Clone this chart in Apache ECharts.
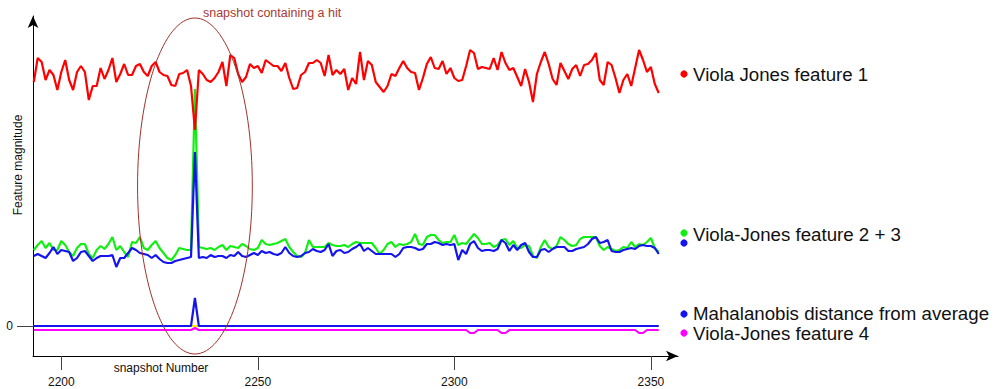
<!DOCTYPE html>
<html>
<head>
<meta charset="utf-8">
<script src="https://cdn.jsdelivr.net/npm/echarts@6/dist/echarts.min.js"></script>
<style>
  html, body { margin: 0; padding: 0; background: #fff; }
  #chart { width: 993px; height: 389px; }
</style>
</head>
<body>
<div id="chart"></div>
<script>
// Snapshot numbers run consecutively from this one
const firstSnapshot = 2193;
const hitSnapshot = 2234;
const xTicks = [2200, 2250, 2300, 2350];
const yTicks = [0];

// Viola Jones feature 1
const feature1 = [
  244,268,264,246,256,251,236,254,266,246,
  236,254,260,254,226,240,240,258,247,256,
  268,244,252,262,251,251,260,262,254,250,
  260,264,254,251,250,241,240,252,253,256,
  240,196,256,252,246,244,248,254,264,240,
  271,268,252,244,249,262,258,260,253,266,
  263,260,260,255,263,248,237,238,251,254,
  263,263,266,263,250,271,251,256,252,257,
  236,248,242,274,246,265,261,244,239,234,
  240,252,250,258,265,258,254,253,236,248,
  262,269,258,257,265,252,258,248,245,246,
  260,276,273,257,259,258,257,268,256,274,
  263,256,258,249,240,257,244,224,252,264,
  274,262,247,241,263,255,247,257,261,250,
  261,262,266,273,246,241,264,261,248,233,
  246,252,240,258,276,266,254,259,242,233
];

// Viola-Jones feature 2 (green)
const feature2 = [
  76,81,85,78,83,76,76,85,81,74,
  70,78,82,82,72,68,76,80,77,82,
  89,76,80,74,69,84,83,89,78,76,
  81,85,78,73,68,66,71,78,77,76,
  76,237,79,78,77,78,76,79,81,76,
  80,79,78,82,80,77,76,78,86,82,
  81,82,83,85,87,79,74,70,69,73,
  86,79,79,79,79,83,81,80,80,81,
  79,82,84,83,83,83,83,78,72,76,
  82,84,79,82,81,82,84,92,82,81,
  89,91,91,86,83,84,84,91,81,83,
  82,87,92,88,82,82,83,79,81,86,
  87,81,85,78,78,81,80,70,68,79,
  86,79,77,80,89,86,82,80,81,87,
  89,89,89,89,80,76,79,77,75,76,
  79,78,84,79,82,81,84,88,78,74
];

// Viola-Jones feature 3 (blue)
const feature3 = [
  70,72,70,68,73,79,72,76,75,74,
  65,68,74,75,70,65,68,70,70,70,
  71,59,68,68,73,78,76,73,72,71,
  68,71,67,64,63,63,65,66,67,68,
  69,174,68,69,68,71,69,70,70,68,
  71,70,74,70,69,71,73,71,75,73,
  74,72,71,73,79,73,70,69,70,73,
  74,77,75,74,76,82,70,75,76,73,
  74,77,79,82,75,78,75,72,72,72,
  72,72,69,72,78,79,79,78,76,77,
  82,82,84,83,81,82,81,82,66,76,
  72,82,85,78,75,76,76,75,77,86,
  83,75,81,76,81,83,74,69,69,76,
  77,74,77,79,79,79,75,75,77,78,
  79,82,87,89,83,84,86,75,74,74,
  76,77,78,77,80,81,80,80,78,72
];

// Mahalanobis distance from average
const mahalanobis = [
  0,0,0,0,0,0,0,0,0,0, 0,0,0,0,0,0,0,0,0,0,
  0,0,0,0,0,0,0,0,0,0, 0,0,0,0,0,0,0,0,0,0,
  0,28,0,0,0,0,0,0,0,0, 0,0,0,0,0,0,0,0,0,0,
  0,0,0,0,0,0,0,0,0,0, 0,0,0,0,0,0,0,0,0,0,
  0,0,0,0,0,0,0,0,0,0, 0,0,0,0,0,0,0,0,0,0,
  0,0,0,0,0,0,0,0,0,0, 0,0,0,0,0,0,0,0,0,0,
  0,0,0,0,0,0,0,0,0,0, 0,0,0,0,0,0,0,0,0,0,
  0,0,0,0,0,0,0,0,0,0, 0,0,0,0,0,0,0,0,0,0
];

// Unlabelled trace lying under the Mahalanobis line
const baseline = [
  0,0,0,0,0,0,0,0,0,0, 0,0,0,0,0,0,0,0,0,0,
  0,0,0,0,0,0,0,0,0,0, 0,0,0,0,0,0,0,0,0,0,
  0,0,0,0,0,0,0,0,0,0, 0,0,0,0,0,0,0,0,0,0,
  0,0,0,0,0,0,0,0,0,0, 0,0,0,0,0,0,0,0,0,0,
  0,0,0,0,0,0,0,0,0,0, 0,0,0,0,0,0,0,0,0,0,
  0,0,0,0,0,0,0,0,0,0, 0,0,0,0,0,0,0,0,0,0,
  0,0,0,0,0,0,0,0,0,0, 0,0,0,0,0,0,0,0,0,0,
  0,0,0,0,0,0,0,0,0,0, 0,0,0,0,0,0,0,0,0,0
];

// Viola-Jones feature 4
const feature4 = [
  -4,-4,-4,-4,-4,-4,-4,-4,-4,-4, -4,-4,-4,-4,-4,-4,-4,-4,-4,-4,
  -4,-4,-4,-4,-4,-4,-4,-4,-4,-4, -4,-4,-4,-4,-4,-4,-4,-4,-4,-4,
  -4,-2,-4,-4,-4,-4,-4,-4,-4,-4, -4,-4,-4,-4,-4,-4,-4,-4,-4,-4,
  -4,-4,-4,-4,-4,-4,-4,-4,-4,-4, -4,-4,-4,-4,-4,-4,-4,-4,-4,-4,
  -4,-4,-4,-4,-4,-4,-4,-4,-4,-4, -4,-4,-4,-4,-4,-4,-4,-4,-4,-4,
  -4,-4,-4,-4,-4,-4,-4,-4,-4,-4, -4,-7,-7,-4,-4,-4,-4,-4,-4,-7,
  -7,-4,-4,-4,-4,-4,-4,-4,-4,-4, -4,-4,-4,-4,-4,-4,-4,-4,-4,-4,
  -4,-4,-4,-4,-4,-4,-4,-4,-4,-4, -4,-4,-4,-4,-7,-7,-4,-4,-4,-4
];

// Ring drawn round the hit snapshot (snapshot half-width, magnitude range)
const hitRing = { halfWidth: 14.6, low: -28, high: 308 };

const FONT = '"Liberation Sans", Arial, Helvetica, sans-serif';
const COLORS = {
  red: '#ff0000', green: '#11ee11', blue: '#1414ee',
  magenta: '#ff00ff', yellow: '#ffee00', ring: '#a2322c'
};

const snapshots = feature1.map((_, i) => firstSnapshot + i);
const toPoints = values => values.map((v, i) => [snapshots[i], v]);

function lineSeries(name, values, color) {
  return {
    type: 'line', name, data: toPoints(values),
    symbol: 'none', showSymbol: false, silent: true,
    lineStyle: { color, width: 2.2 }, itemStyle: { color }
  };
}

const chart = echarts.init(document.getElementById('chart'), null, { renderer: 'svg' });

chart.setOption({
  animation: false,
  textStyle: { fontFamily: FONT },
  grid: { left: 33, top: 16, right: 315, bottom: 33, containLabel: false },
  xAxis: {
    type: 'value', min: 2192.8, max: 2356.9,
    axisLine: {
      show: true, onZero: false,
      symbol: ['none', 'arrow'], symbolSize: [8, 12],
      lineStyle: { color: '#000', width: 1 }
    },
    axisTick: { show: true, customValues: xTicks, length: 14, lineStyle: { color: '#444' } },
    axisLabel: {
      customValues: xTicks, margin: 20, fontSize: 12, color: '#111', fontFamily: FONT,
      formatter: v => String(v)
    },
    splitLine: { show: false }
  },
  yAxis: {
    type: 'value', min: -30, max: 310,
    axisLine: {
      show: true, onZero: false,
      symbol: ['none', 'arrow'], symbolSize: [8, 12],
      lineStyle: { color: '#000', width: 1 }
    },
    axisTick: { show: true, customValues: yTicks, length: 16, lineStyle: { color: '#444' } },
    axisLabel: {
      customValues: yTicks, margin: 20, fontSize: 12, color: '#111', fontFamily: FONT,
      formatter: v => String(v)
    },
    splitLine: { show: false }
  },
  series: [
    lineSeries('baseline', baseline, COLORS.yellow),
    lineSeries('Viola-Jones feature 4', feature4, COLORS.magenta),
    lineSeries('Mahalanobis distance from average', mahalanobis, COLORS.blue),
    lineSeries('Viola-Jones feature 2', feature2, COLORS.green),
    lineSeries('Viola-Jones feature 3', feature3, COLORS.blue),
    lineSeries('Viola Jones feature 1', feature1, COLORS.red)
  ]
});

// Annotation ring and side labels, placed from the grid's own scales
const [cx, cyTop] = chart.convertToPixel({ gridIndex: 0 }, [hitSnapshot, hitRing.high]);
const [, cyBottom] = chart.convertToPixel({ gridIndex: 0 }, [hitSnapshot, hitRing.low]);
const [xRight] = chart.convertToPixel({ gridIndex: 0 }, [hitSnapshot + hitRing.halfWidth, 0]);
const ring = { cx, cy: (cyTop + cyBottom) / 2, rx: xRight - cx, ry: (cyBottom - cyTop) / 2 };

const legendFont = '18.7px ' + FONT;
function dot(cy, fill) {
  return { type: 'circle', shape: { cx: 684, cy, r: 3.6 }, style: { fill }, silent: true };
}
function label(y, text) {
  return {
    type: 'text', x: 693, y, silent: true,
    style: { text, fill: '#111', font: legendFont, textAlign: 'left', textVerticalAlign: 'middle' }
  };
}

chart.setOption({
  graphic: [
    {
      type: 'ellipse', shape: ring, silent: true, z: 100,
      style: { fill: 'none', stroke: COLORS.ring, lineWidth: 1 }
    },
    {
      type: 'text', x: ring.cx + 8, y: ring.cy - ring.ry - 5, silent: true, z: 100,
      style: { text: 'snapshot containing a hit', fill: '#a83a34', font: '12.5px ' + FONT, textAlign: 'left', textVerticalAlign: 'middle' }
    },
    {
      type: 'text', x: 18, y: 165, rotation: Math.PI / 2, silent: true,
      style: { text: 'Feature magnitude', fill: '#111', font: '12px ' + FONT, textAlign: 'center', textVerticalAlign: 'middle' }
    },
    {
      type: 'text', x: 161, y: 368, silent: true,
      style: { text: 'snapshot Number', fill: '#111', font: '12px ' + FONT, textAlign: 'center', textVerticalAlign: 'middle' }
    },
    dot(74, COLORS.red), label(74, 'Viola Jones feature 1'),
    dot(233, COLORS.green), dot(243, COLORS.blue), label(234, 'Viola-Jones feature 2 + 3'),
    dot(314, COLORS.blue), label(313, 'Mahalanobis distance from average'),
    dot(333, COLORS.magenta), label(333, 'Viola-Jones feature 4')
  ]
});
</script>
</body>
</html>
